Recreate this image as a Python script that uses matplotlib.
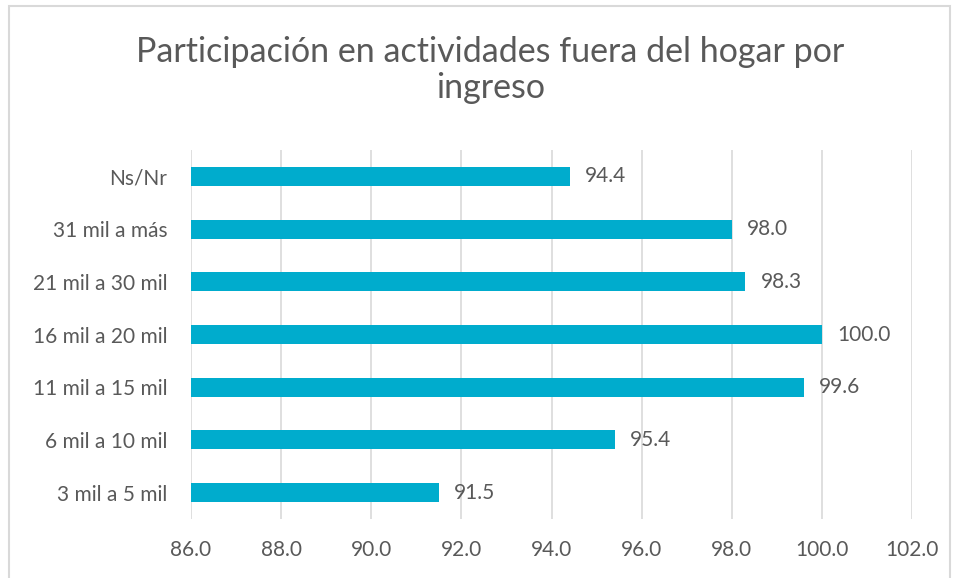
import matplotlib.pyplot as plt
from matplotlib.patches import Rectangle

# data (bottom to top)
categorias = ["3 mil a 5 mil", "6 mil a 10 mil", "11 mil a 15 mil", "16 mil a 20 mil",
              "21 mil a 30 mil", "31 mil a más", "Ns/Nr"]
valores = [91.5, 95.4, 99.6, 100.0, 98.3, 98.0, 94.4]
ticks_x = [86, 88, 90, 92, 94, 96, 98, 100, 102]
titulo = ["Participación en actividades fuera del hogar por", "ingreso"]

color_barra = "#00ACCD"
color_texto = "#595959"
plt.rcParams['font.family'] = ['Lato', 'DejaVu Sans']

fig = plt.figure(figsize=(9.54, 5.78), dpi=100)
ax = fig.add_axes([0.2002, 0.102, 0.7558, 0.6385])

base = 86
y = range(len(categorias))
ax.barh(y, [v - base for v in valores], left=base, height=0.36, color=color_barra, zorder=3)

for i, v in enumerate(valores):
    ax.text(v + 0.34, i, f"{v:.1f}", va="center", ha="left", fontsize=15, color=color_texto)

ax.set_xlim(86, 102)
ax.set_ylim(-0.5, len(categorias) - 0.5)
ax.set_xticks(ticks_x)
ax.set_xticklabels([f"{t:.1f}" for t in ticks_x])
ax.set_yticks(list(y))
ax.set_yticklabels(categorias)
ax.tick_params(axis="both", length=0, labelsize=15, labelcolor=color_texto)
ax.tick_params(axis="x", pad=15)
ax.tick_params(axis="y", pad=17)
ax.grid(axis="x", color="#D9D9D9", linewidth=1.2, zorder=0)
for s in ax.spines.values():
    s.set_visible(False)

fig.text(0.514, 1 - 62 / 578, titulo[0], ha="center", va="baseline",
         fontsize=24.5, color=color_texto)
fig.text(0.514, 1 - 98 / 578, titulo[1], ha="center", va="baseline",
         fontsize=24.5, color=color_texto)

# chart border
fig.patches.append(Rectangle((0.009, -0.01), 0.987, 1.0 - 0.0004, transform=fig.transFigure,
                             fill=False, edgecolor="#D9D9D9", linewidth=1.5))

fig.savefig("out.png", dpi=100)
